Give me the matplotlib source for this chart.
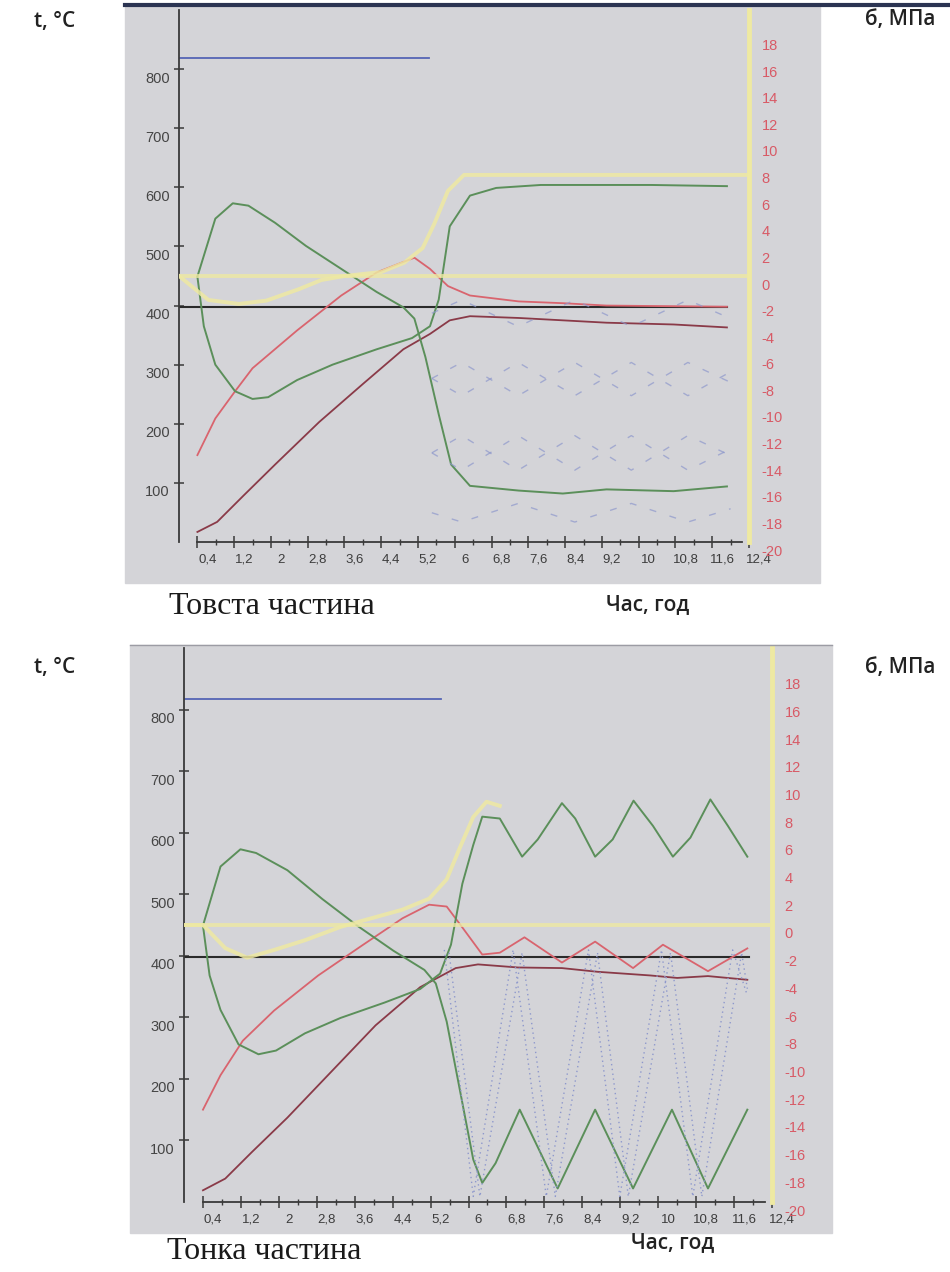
import matplotlib
matplotlib.use("Agg")
import matplotlib.pyplot as plt
from matplotlib.patches import Rectangle
from matplotlib.lines import Line2D
from matplotlib.transforms import ScaledTranslation

plt.rcParams["axes.unicode_minus"] = False

# ---------- товста частина (верхній графік), t в °C, σ в МПа ----------
thick_blue_x = [0, 5.44]
thick_blue_t = [818, 818]
thick_black_x = [0, 11.92]
thick_black_t = [398, 398]

thick_g1_x = [0.4, 0.79, 1.17, 1.51, 2.09, 2.76, 3.53, 4.3, 4.88, 5.12, 5.36, 5.65, 5.92, 6.33, 7.39, 8.35, 9.3, 10.76, 11.92]
thick_g1_t = [449, 547, 573, 569, 540, 501, 462, 423, 397, 378, 313, 216, 131, 95, 87, 82, 89, 86, 94]

thick_g2_x = [0.4, 0.54, 0.79, 1.22, 1.6, 1.94, 2.57, 3.34, 4.3, 5.07, 5.46, 5.65, 5.89, 6.33, 6.9, 7.87, 10.28, 11.92]
thick_g2_t = [449, 365, 300, 255, 242, 245, 274, 300, 326, 345, 365, 410, 534, 586, 599, 604, 604, 602]

thick_red_x = [0.4, 0.79, 1.22, 1.6, 2.57, 3.53, 4.3, 5.12, 5.46, 5.85, 6.33, 7.39, 8.35, 9.3, 11.92]
thick_red_t = [147, 209, 255, 294, 358, 417, 456, 481, 462, 433, 417, 407, 404, 400, 398]

thick_brown_x = [0.4, 0.83, 1.41, 2.09, 3.05, 4.01, 4.88, 5.46, 5.89, 6.33, 7.39, 8.35, 9.3, 10.76, 11.92]
thick_brown_t = [17, 34, 79, 131, 203, 268, 326, 352, 375, 382, 379, 375, 371, 368, 363]

thick_yflat_x = [0, 12.4]
thick_yflat_s = [0, 0]
thick_y_x = [0, 0.64, 1.3, 1.9, 2.6, 3.1, 3.6, 4.4, 4.9, 5.3, 5.55, 5.85, 6.2, 12.4]
thick_y_s = [0, -1.8, -2.1, -1.85, -1.0, -0.3, 0, 0.3, 1.0, 2.1, 3.9, 6.4, 7.6, 7.6]

# розсіяні сині штрихові лінії (σ)
thick_dash_x = [5.5, 6.15, 7.38, 8.61, 9.84, 11.07, 12.0]
thick_dash_a = [-2.8, -1.8, -3.8, -1.8, -3.8, -1.8, -3.2]
thick_dash_b1 = [-7.7, -6.5, -9.0, -6.5, -9.0, -6.5, -8.0]
thick_dash_b2 = [-7.7, -9.0, -6.5, -9.0, -6.5, -9.0, -7.2]
thick_dash_c1 = [-13.3, -12.0, -14.6, -12.0, -14.6, -12.0, -13.5]
thick_dash_c2 = [-13.3, -14.6, -12.0, -14.6, -12.0, -14.6, -13.0]
thick_dash_d = [-17.8, -18.5, -17.1, -18.5, -17.1, -18.5, -17.5]

# ---------- тонка частина (нижній графік) ----------
thin_blue_x = [0, 5.43]
thin_blue_t = [817, 817]
thin_black_x = [0, 11.92]
thin_black_t = [398, 398]

thin_g1_x = [0.4, 0.77, 1.19, 1.52, 2.18, 2.92, 3.67, 4.42, 5.07, 5.31, 5.54, 5.82, 6.1, 6.29, 6.57, 7.08, 7.88, 8.67, 9.47, 10.29, 11.05, 11.88]
thin_g1_t = [449, 545, 573, 567, 539, 492, 448, 408, 377, 355, 293, 181, 69, 31, 63, 150, 22, 150, 22, 150, 22, 150]

thin_g2_x = [0.4, 0.54, 0.77, 1.15, 1.57, 1.94, 2.55, 3.3, 4.23, 4.98, 5.4, 5.63, 5.87, 6.1, 6.29, 6.66, 7.13, 7.46, 7.97, 8.25, 8.67, 9.04, 9.48, 9.89, 10.31, 10.68, 11.1, 11.47, 11.88]
thin_g2_t = [449, 368, 312, 256, 240, 246, 274, 299, 324, 346, 371, 418, 517, 580, 626, 623, 561, 589, 648, 623, 561, 589, 652, 611, 561, 592, 654, 611, 561]

thin_red_x = [0.4, 0.77, 1.24, 1.9, 2.83, 3.76, 4.61, 5.17, 5.54, 5.87, 6.29, 6.66, 7.18, 7.97, 8.67, 9.47, 10.1, 11.05, 11.88]
thin_red_t = [150, 206, 262, 311, 368, 417, 461, 483, 480, 446, 402, 405, 430, 389, 423, 380, 418, 375, 412]

thin_brown_x = [0.4, 0.87, 1.43, 2.18, 3.11, 4.04, 4.98, 5.73, 6.2, 7.04, 7.97, 8.72, 9.84, 10.4, 11.05, 11.88]
thin_brown_t = [19, 38, 81, 137, 212, 287, 349, 380, 386, 381, 380, 374, 368, 364, 367, 361]

thin_yflat_x = [0, 12.4]
thin_yflat_s = [0, 0]
thin_y_x = [0, 0.4, 0.87, 1.33, 1.9, 2.55, 3.3, 3.86, 4.6, 5.17, 5.54, 5.82, 6.1, 6.38, 6.66]
thin_y_s = [0, 0, -1.67, -2.36, -1.8, -1.1, -0.14, 0.4, 1.1, 1.9, 3.3, 5.6, 7.8, 8.9, 8.6]

# сині пунктирні коливання (σ)
thin_dot1_x = [5.49, 6.1, 6.94, 7.64, 8.53, 9.19, 10.07, 10.73, 11.57, 11.88]
thin_dot1_s = [-1.8, -19.6, -1.8, -19.6, -1.8, -19.6, -1.8, -19.6, -1.8, -5.1]
thin_dot2_x = [5.59, 6.24, 7.13, 7.83, 8.72, 9.37, 10.26, 10.92, 11.76, 11.88]
thin_dot2_s = [-2.0, -19.6, -2.0, -19.6, -2.0, -19.6, -2.0, -19.6, -2.0, -4.6]

x_ticks = [0.4 + 0.8 * k for k in range(16)]
x_labels = ["0,4", "1,2", "2", "2,8", "3,6", "4,4", "5,2", "6", "6,8", "7,6", "8,4", "9,2", "10", "10,8", "11,6", "12,4"]
t_ticks = [100, 200, 300, 400, 500, 600, 700, 800]
s_ticks = list(range(-20, 19, 2))

W, H = 950, 1272
fig = plt.figure(figsize=(W / 100, H / 100), dpi=100)

green = "#5b8f5a"
red = "#d9646e"
brown = "#8a3a48"
yellow = "#eee9a2"
blue = "#5565b5"
lblue = "#8e98cc"


def fx(px):
    return px / W


def fy(py):
    return 1 - py / H


# сірі підкладки
fig.add_artist(Rectangle((fx(125), fy(583)), fx(820 - 125), (583 - 5) / H,
                         transform=fig.transFigure, color="#d4d4d8", zorder=0))
fig.add_artist(Rectangle((fx(130), fy(1233)), fx(832 - 130), (1233 - 645) / H,
                         transform=fig.transFigure, color="#d4d4d8", zorder=0))
fig.add_artist(Line2D([fx(125), fx(948)], [fy(5), fy(5)], transform=fig.transFigure,
                      color="#2b3452", lw=3, zorder=1))
fig.add_artist(Line2D([fx(130), fx(832)], [fy(645), fy(645)], transform=fig.transFigure,
                      color="#9c9ca4", lw=1, zorder=1))


def style_axes(ax, ax2):
    ax.patch.set_alpha(0)
    ax.set_xlim(0, 12.4)
    ax.set_ylim(0, 900)
    ax2.set_ylim(-19.6, 20.0)
    for s in ["top", "right"]:
        ax.spines[s].set_visible(False)
    for s in ["top", "left", "bottom"]:
        ax2.spines[s].set_visible(False)
    ax.spines["left"].set_color("#3a3a3a")
    ax.spines["left"].set_linewidth(1.3)
    ax.spines["bottom"].set_color("#3a3a3a")
    ax.spines["bottom"].set_linewidth(1.3)
    ax.spines["bottom"].set_bounds(0.4, 12.25)
    ax2.spines["right"].set_color(yellow)
    ax2.spines["right"].set_linewidth(3.5)

    ax.set_xticks(x_ticks)
    ax.set_xticklabels(x_labels)
    ax.set_xticks([0.8 + 0.8 * k for k in range(15)], minor=True)
    ax.tick_params(axis="x", which="major", direction="inout", length=9, width=1.1,
                   color="#3a3a3a", labelsize=9.5, labelcolor="#3c3c3c", pad=4)
    ax.tick_params(axis="x", which="minor", direction="inout", length=4, width=1, color="#3a3a3a")
    ax.set_yticks(t_ticks)
    ax.tick_params(axis="y", direction="inout", length=7, width=1.1, color="#3a3a3a",
                   labelsize=10.5, labelcolor="#454545", pad=3)
    ax2.set_yticks(s_ticks)
    ax2.tick_params(axis="y", length=0, labelsize=10.5, labelcolor="#d85a66", pad=9)

    down = ScaledTranslation(0, -0.08, fig.dpi_scale_trans)
    right = ScaledTranslation(0.1, 0, fig.dpi_scale_trans)
    for lab in ax.get_yticklabels():
        lab.set_fontfamily("Liberation Sans")
        lab.set_transform(lab.get_transform() + down)
    for lab in ax2.get_yticklabels():
        lab.set_fontfamily("Liberation Sans")
        lab.set_transform(lab.get_transform() + down)
    for lab in ax.get_xticklabels():
        lab.set_fontfamily("Liberation Sans")
        lab.set_transform(lab.get_transform() + right)


# ---------- верхній графік ----------
ax = fig.add_axes([fx(179), fy(542), 570 / W, 532 / H])
ax2 = ax.twinx()
style_axes(ax, ax2)
ax.plot(thick_blue_x, thick_blue_t, color=blue, lw=1.3)
ax.plot(thick_black_x, thick_black_t, color="#2a2a2a", lw=1.5)
ax.plot(thick_brown_x, thick_brown_t, color=brown, lw=1.3)
ax.plot(thick_red_x, thick_red_t, color=red, lw=1.3)
ax.plot(thick_g1_x, thick_g1_t, color=green, lw=1.4)
ax.plot(thick_g2_x, thick_g2_t, color=green, lw=1.4)
ax2.plot(thick_yflat_x, thick_yflat_s, color=yellow, lw=2.8, alpha=0.8)
ax2.plot(thick_y_x, thick_y_s, color=yellow, lw=2.8, alpha=0.85)
for ys in [thick_dash_a, thick_dash_b1, thick_dash_b2, thick_dash_c1, thick_dash_c2, thick_dash_d]:
    ax2.plot(thick_dash_x, ys, color=lblue, lw=1, ls=(0, (5, 10)), alpha=0.7)

# ---------- нижній графік ----------
bx = fig.add_axes([fx(184), fy(1202), 588 / W, 554 / H])
bx2 = bx.twinx()
style_axes(bx, bx2)
bx.plot(thin_blue_x, thin_blue_t, color=blue, lw=1.3)
bx.plot(thin_black_x, thin_black_t, color="#2a2a2a", lw=1.5)
bx.plot(thin_brown_x, thin_brown_t, color=brown, lw=1.3)
bx.plot(thin_red_x, thin_red_t, color=red, lw=1.3)
bx.plot(thin_g1_x, thin_g1_t, color=green, lw=1.4)
bx.plot(thin_g2_x, thin_g2_t, color=green, lw=1.4)
bx2.plot(thin_yflat_x, thin_yflat_s, color=yellow, lw=2.8, alpha=0.8)
bx2.plot(thin_y_x, thin_y_s, color=yellow, lw=2.8, alpha=0.85)
bx2.plot(thin_dot1_x, thin_dot1_s, color=lblue, lw=1, ls=(0, (1, 2.5)))
bx2.plot(thin_dot2_x, thin_dot2_s, color=lblue, lw=1, ls=(0, (1, 2.5)))

# ---------- підписи ----------
sans = dict(family=["Open Sans", "DejaVu Sans"], fontsize=15, color="#222222", weight="semibold")
serif = dict(family=["Liberation Serif", "DejaVu Serif"], fontsize=23, color="#1a1a1a")

fig.text(fx(55), fy(22), "t, °C", ha="center", va="center", **sans)
fig.text(fx(900), fy(20), "б, МПа", ha="center", va="center", **sans)
fig.text(fx(169), fy(592), "Товста частина", ha="left", va="top", **serif)
fig.text(fx(648), fy(594), "Час, год", ha="center", va="top", **sans)

fig.text(fx(55), fy(668), "t, °C", ha="center", va="center", **sans)
fig.text(fx(900), fy(667), "б, МПа", ha="center", va="center", **sans)
fig.text(fx(167), fy(1237), "Тонка частина", ha="left", va="top", **serif)
fig.text(fx(673), fy(1232), "Час, год", ha="center", va="top", **sans)

fig.savefig("out.png", dpi=100)
